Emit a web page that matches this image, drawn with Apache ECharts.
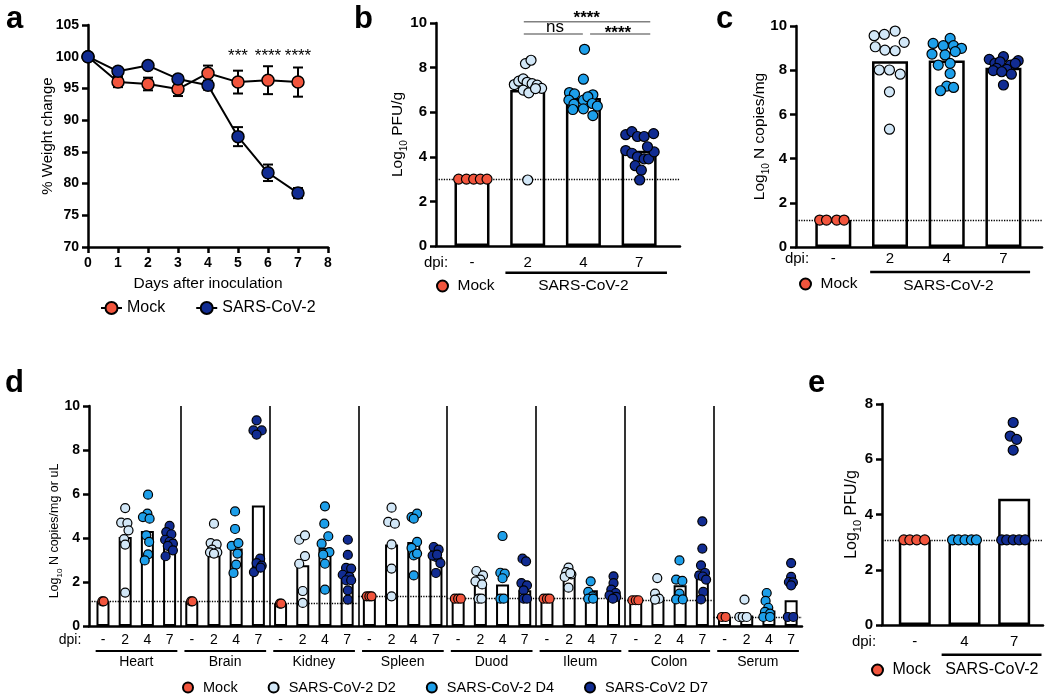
<!DOCTYPE html>
<html>
<head>
<meta charset="UTF-8">
<title>SARS-CoV-2 infection panels</title>
<style>
    html, body { margin: 0; padding: 0; width: 100%; height: 100%; overflow: hidden; background: #fff; }
    #main { width: 1050px; height: 699px; }
</style>
<script src="https://cdn.jsdelivr.net/npm/echarts@6/dist/echarts.min.js"></script>
</head>
<body>
<div id="main"></div>
<script>
// ---------- data ----------
// panel a: weight change
const days = [0, 1, 2, 3, 4, 5, 6, 7];
const weightMock = [100, 96.0, 95.7, 94.9, 97.4, 96.0, 96.3, 96.0];
const weightMockErr = [0, 0.8, 1.0, 1.1, 1.2, 1.8, 2.2, 2.3];
const weightSars = [100, 97.7, 98.6, 96.5, 95.5, 87.4, 81.7, 78.5];
const weightSarsErr = [0, 0.4, 0.3, 0.4, 0.7, 1.5, 1.3, 0.8];
const weightStarPos = [[5, 100.0], [6, 100.0], [7, 100.0]];
const weightStars = ['***', '****', '****'];

// panel b: lung PFU  (points are [jitter, value])
const dpiLung = ['-', '2', '4', '7'];
const pfuLungBars = [3.0, 6.99, 6.64, 4.27];
const pfuLungLod = 3.0;
const pfuLungMock = [[-0.24, 3], [-0.1, 3], [0.03, 3], [0.15, 3], [0.27, 3]];
const pfuLungD2 = [[-0.04, 8.18], [0.06, 8.33], [-0.24, 7.24], [-0.16, 7.39], [-0.08, 7.49], [-0.01, 7.34], [0.08, 7.28],
    [0.17, 7.21], [0.25, 7.07], [-0.08, 6.99], [0.02, 6.87], [0.14, 7.06], [0.0, 2.96]];
const pfuLungD4 = [[0.02, 8.82], [0, 7.48], [-0.25, 6.88], [-0.16, 6.82], [0.17, 6.78], [-0.26, 6.54], [0, 6.54],
    [0.08, 6.69], [-0.17, 6.36], [0.16, 6.39], [0.25, 6.27], [0, 6.15], [-0.19, 6.12], [0.17, 5.85]];
const pfuLungD7 = [[-0.24, 4.99], [-0.13, 5.13], [-0.03, 4.91], [0.09, 4.91], [0.26, 5.04], [-0.24, 4.28], [-0.13, 4.16],
    [-0.03, 4.0], [0.09, 3.91], [0.17, 3.91], [0.27, 4.22], [0.15, 4.45], [-0.07, 3.6], [0.04, 3.4], [0.01, 2.96]];
const pfuLungSigLines = [[0.93, 3.2, 10.06], [0.93, 1.99, 9.51], [2.12, 3.2, 9.51]];
const pfuLungSigPos = [[2.06, 10.2], [1.49, 9.8], [2.62, 9.55]];
const pfuLungSigText = ['****', 'ns', '****'];
const pfuLungSigWeight = ['bold', 'normal', 'bold'];
const pfuLungGroupLine = [[0.6, 3.5, -1.2]];
const pfuLungGroupPos = [[2.0, -1.79]];

// panel c: lung N copies
const rnaLungBars = [1.22, 8.41, 8.44, 8.11];
const rnaLungLod = 1.22;
const rnaLungMock = [[-0.24, 1.22], [-0.12, 1.22], [0.06, 1.22], [0.19, 1.22]];
const rnaLungD2 = [[-0.28, 9.56], [-0.10, 9.62], [0.09, 9.77], [0.25, 9.26], [-0.26, 9.06], [-0.09, 8.91], [0.09, 8.88],
    [-0.19, 8.01], [-0.01, 8.01], [0.18, 7.82], [-0.01, 7.02], [-0.01, 5.33]];
const rnaLungD4 = [[0.06, 9.44], [-0.24, 9.21], [-0.06, 9.11], [0.12, 9.11], [0.26, 8.99], [-0.26, 8.73], [-0.03, 8.69],
    [0.15, 8.84], [0.06, 8.31], [-0.15, 8.23], [0.06, 7.85], [0, 7.28], [0.12, 7.22], [-0.11, 7.07]];
const rnaLungD7 = [[-0.25, 8.49], [0, 8.61], [0.26, 8.43], [-0.15, 8.31], [-0.06, 8.38], [0.12, 8.23], [0.21, 8.31],
    [-0.12, 8.08], [0.06, 8.04], [-0.18, 7.98], [-0.03, 7.93], [0.14, 7.82], [0, 7.33]];
const rnaLungGroupLine = [[0.65, 3.47, -1.13]];
const rnaLungGroupPos = [[2.03, -1.74]];

// panel d: organs
const organs = ['Heart', 'Brain', 'Kidney', 'Spleen', 'Duod', 'Ileum', 'Colon', 'Serum'];
const organBars = [
    [1.12, 4.05, 4.32, 3.97], [1.12, 3.82, 3.52, 5.48], [1.02, 2.76, 3.56, 2.38], [1.35, 3.71, 3.82, 3.14],
    [1.24, 1.89, 1.89, 1.62], [1.24, 2.30, 1.62, 1.57], [1.17, 1.32, 1.85, 2.50], [0.41, 0.48, 0.71, 1.17]];
const organLod = [1.12, 1.12, 1.02, 1.35, 1.24, 1.24, 1.17, 0.41];
const organMock = [
    [[-0.03, 1.12], [0.03, 1.12]], [[-0.03, 1.12], [0.03, 1.12]], [[-0.03, 1.02], [0.03, 1.02]],
    [[-0.12, 1.35], [0, 1.35], [0.1, 1.35]], [[-0.15, 1.24], [0, 1.24], [0.12, 1.24]],
    [[-0.15, 1.24], [0, 1.24], [0.12, 1.24]], [[-0.15, 1.17], [0, 1.17], [0.12, 1.17]], [[-0.12, 0.41], [0.05, 0.41]]];
const organD2 = [
    [[0, 5.36], [-0.18, 4.70], [0.1, 4.68], [0.15, 4.35], [-0.05, 3.95], [0, 3.70], [0, 1.52]],
    [[0, 4.65], [-0.15, 3.77], [0.12, 3.71], [-0.08, 3.47], [0.15, 3.35], [-0.18, 3.35], [0, 3.29]],
    [[-0.16, 3.92], [0.1, 4.12], [0.1, 3.18], [-0.16, 2.83], [0, 1.59], [0, 1.05]],
    [[0, 5.38], [-0.15, 4.73], [0.15, 4.65], [0, 3.71], [0, 2.61], [0, 1.35]],
    [[-0.18, 2.5], [0.12, 2.3], [0, 2.11], [-0.22, 2.03], [0.08, 1.89], [-0.08, 1.24], [0.05, 1.24]],
    [[-0.03, 2.65], [-0.13, 2.45], [0.1, 2.35], [-0.2, 2.23], [0.05, 2.4], [-0.03, 1.74]],
    [[-0.03, 2.18], [-0.13, 1.47], [0.05, 1.24], [-0.13, 1.2]],
    [[-0.1, 1.2], [-0.33, 0.41], [-0.18, 0.41], [0, 0.41]]];
const organD4 = [
    [[0.03, 5.97], [0, 5.11], [-0.2, 4.95], [0.1, 4.88], [-0.05, 4.12], [0.08, 3.82], [0.03, 3.26], [-0.12, 2.98]],
    [[-0.05, 5.21], [-0.05, 4.41], [-0.2, 3.64], [0.1, 3.77], [0.06, 3.29], [0, 2.79], [-0.12, 2.41]],
    [[0, 5.44], [-0.03, 4.65], [0.15, 4.08], [-0.15, 3.74], [0.2, 3.36], [-0.08, 3.24], [0, 2.83], [0, 1.65]],
    [[-0.1, 4.95], [0.15, 5.11], [0, 4.88], [0.15, 3.82], [-0.1, 3.55], [0, 3.21], [0.15, 3.29], [0, 2.30]],
    [[0, 4.09], [-0.1, 2.42], [0.1, 2.38], [0, 2.17], [-0.1, 1.24], [0.05, 1.24]],
    [[-0.03, 2.03], [-0.14, 1.55], [0.05, 1.35], [-0.14, 1.24], [0.08, 1.24]],
    [[-0.03, 2.98], [-0.18, 2.11], [0.1, 2.05], [-0.03, 1.47], [-0.18, 1.21], [0.12, 1.21]],
    [[-0.1, 1.5], [-0.15, 1.14], [-0.03, 0.83], [-0.18, 0.64], [0.05, 0.56], [-0.25, 0.41], [0.05, 0.41]]];
const organD7 = [
    [[0, 4.55], [-0.15, 4.27], [0.08, 4.17], [-0.2, 3.92], [0, 3.83], [0.15, 3.74], [-0.08, 3.64], [0.15, 3.44], [-0.18, 3.17]],
    [[-0.08, 9.35], [-0.22, 8.89], [0.15, 8.89], [-0.08, 8.70], [0.08, 3.06], [-0.08, 2.86], [0.15, 2.74], [-0.2, 2.45], [0.1, 2.65]],
    [[0.03, 3.92], [0.03, 3.23], [-0.05, 2.64], [0.18, 2.61], [-0.2, 2.33], [0.1, 2.23], [-0.05, 2.08], [0.18, 2.08], [0.03, 1.62], [0.03, 1.2]],
    [[-0.1, 3.59], [0.12, 3.47], [0, 3.14], [-0.15, 3.2], [0.05, 3.24], [0.2, 2.86], [0, 2.41]],
    [[-0.1, 3.06], [0.06, 2.94], [-0.15, 1.95], [0.1, 1.85], [-0.05, 1.62], [-0.05, 1.24], [0.1, 1.24]],
    [[0, 2.26], [0, 1.95], [-0.1, 1.65], [0.1, 1.5], [-0.18, 1.39], [0.12, 1.32], [-0.03, 1.24]],
    [[0, 4.76], [0, 3.52], [-0.06, 2.76], [-0.14, 2.30], [0.12, 2.41], [0.02, 2.25], [0.17, 2.11], [0.04, 1.55], [-0.06, 1.21]],
    [[0, 2.86], [0, 2.23], [-0.1, 2.0], [0.08, 1.98], [0, 1.85], [-0.15, 0.41], [0.1, 0.41]]];

// panel e: brain PFU
const dpiBrain = ['-', '4', '7'];
const pfuBrainBars = [3.08, 3.08, 4.57];
const pfuBrainLod = 3.08;
const pfuBrainMock = [[-0.22, 3.08], [-0.1, 3.08], [0.04, 3.08], [0.2, 3.08]];
const pfuBrainD4 = [[-0.24, 3.08], [-0.12, 3.08], [0.01, 3.08], [0.14, 3.08], [0.24, 3.08]];
const pfuBrainD7 = [[-0.02, 7.33], [-0.08, 6.84], [0.05, 6.72], [-0.02, 6.33], [-0.25, 3.08], [-0.15, 3.08],
    [-0.02, 3.08], [0.1, 3.08], [0.22, 3.08]];
const pfuBrainGroupLine = [[0.54, 2.55, -1.08]];
const pfuBrainGroupPos = [[1.55, -1.62]];

// ---------- style ----------
const FONT = '"Liberation Sans", Arial, Helvetica, sans-serif';
const BLACK = '#000';
const RED = '#F2553D';
const LIGHT = '#D2E7F7';
const MID = '#1D9FEA';
const DARK = '#112C92';

function txt(size, weight) {
    return { color: BLACK, fontFamily: FONT, fontSize: size, fontWeight: weight || 'normal' };
}

function subName(pre, post, size, shift) {
    return {
        name: '{t|' + pre + '}{s|10}{t|' + post + '}',
        nameTextStyle: {
            padding: shift ? [0, shift, 0, 0] : 0,
            rich: {
                t: { fontFamily: FONT, fontSize: size, color: BLACK, lineHeight: size + 7 },
                s: { fontFamily: FONT, fontSize: Math.round(size * 0.66), color: BLACK, lineHeight: size * 0.8, verticalAlign: 'bottom' }
            }
        }
    };
}

function yAxisOf(gi, min, max, interval, nameCfg, nameGap, labelSize) {
    return Object.assign({
        type: 'value', gridIndex: gi, min: min, max: max, interval: interval,
        axisLine: { show: true, onZero: false, lineStyle: { color: BLACK, width: 2.5 } },
        axisTick: { show: true, length: 6, lineStyle: { color: BLACK, width: 2.5 } },
        axisLabel: Object.assign(txt(labelSize, 'bold'), { margin: 9 }),
        splitLine: { show: false },
        nameLocation: 'middle', nameGap: nameGap, nameMoveOverlap: false
    }, nameCfg);
}

function xDpiAxis(gi, min, max, labels, size, margin, dpiGap) {
    const ticks = [];
    for (let i = 0; i <= Math.floor(max); i++) ticks.push(i);
    return {
        type: 'value', gridIndex: gi, min: min, max: max,
        axisLine: { show: true, onZero: false, lineStyle: { color: BLACK, width: 2.5 } },
        axisTick: { show: false },
        splitLine: { show: false },
        axisLabel: Object.assign(txt(size), {
            margin: margin, customValues: ticks,
            formatter: v => labels[Math.round(v) % labels.length]
        }),
        name: 'dpi:', nameLocation: 'start', nameGap: dpiGap, nameMoveOverlap: false,
        nameTextStyle: Object.assign(txt(size), { align: 'center', verticalAlign: 'top', padding: [margin, 0, 0, 0] })
    };
}

function dots(gi, name, color, pts, base, size) {
    return {
        type: 'scatter', name: name, xAxisIndex: gi, yAxisIndex: gi, z: 6, silent: true,
        symbol: 'circle', symbolSize: size,
        itemStyle: { color: color, borderColor: BLACK, borderWidth: 1.2, opacity: 1 },
        data: pts.map(p => [base + p[0], p[1]])
    };
}

function bars(gi, values, width, border, markData) {
    return {
        type: 'bar', xAxisIndex: gi, yAxisIndex: gi, barWidth: width, z: 2, silent: true,
        itemStyle: { color: '#fff', borderColor: BLACK, borderWidth: border },
        data: values.map((v, i) => [i, v]),
        markLine: {
            silent: true, symbol: ['none', 'none'], label: { show: false },
            lineStyle: { color: BLACK, type: 'dotted', width: 1.3 },
            data: markData
        }
    };
}

function segSeries(gi, segs, color, width) {
    return {
        type: 'custom', xAxisIndex: gi, yAxisIndex: gi, silent: true, z: 8, data: segs,
        renderItem: (params, api) => {
            const a = api.coord([api.value(0), api.value(2)]);
            const b = api.coord([api.value(1), api.value(2)]);
            return { type: 'line', shape: { x1: a[0], y1: a[1], x2: b[0], y2: b[1] }, style: { stroke: color, lineWidth: width } };
        }
    };
}

function textSeries(gi, pos, texts, size, weights) {
    return {
        type: 'custom', xAxisIndex: gi, yAxisIndex: gi, silent: true, z: 8, data: pos,
        renderItem: (params, api) => {
            const p = api.coord([api.value(0), api.value(1)]);
            return {
                type: 'text', x: p[0], y: p[1],
                style: { text: texts[params.dataIndex], fill: BLACK, fontFamily: FONT, fontSize: size,
                    fontWeight: weights ? weights[params.dataIndex] : 'normal', align: 'center', verticalAlign: 'middle' }
            };
        }
    };
}

function errorSeries(values, errs) {
    return {
        type: 'custom', xAxisIndex: 0, yAxisIndex: 0, silent: true, z: 1,
        data: days.map((d, i) => [d, values[i], errs[i]]),
        renderItem: (params, api) => {
            const x = api.value(0), y = api.value(1), e = api.value(2);
            if (!e) return null;
            const hi = api.coord([x, y + e]), lo = api.coord([x, y - e]);
            const w = 5, st = { stroke: BLACK, lineWidth: 2 };
            return {
                type: 'group', children: [
                    { type: 'line', shape: { x1: hi[0], y1: hi[1], x2: lo[0], y2: lo[1] }, style: st },
                    { type: 'line', shape: { x1: hi[0] - w, y1: hi[1], x2: hi[0] + w, y2: hi[1] }, style: st },
                    { type: 'line', shape: { x1: lo[0] - w, y1: lo[1], x2: lo[0] + w, y2: lo[1] }, style: st }
                ]
            };
        }
    };
}

function organPts(groups, g) {
    const out = [];
    groups.forEach((pts, k) => pts.forEach(p => out.push([4 * k + g + p[0], p[1]])));
    return out;
}

// ---------- chart ----------
const chart = echarts.init(document.getElementById('main'));

const dMin = -0.63, dMax = 31.49;
const organBarData = [];
organBars.forEach((row, k) => row.forEach((v, g) => organBarData.push([4 * k + g, v])));
const organMarks = organs.slice(1).map((o, k) => ({ xAxis: 4 * (k + 1) - 0.5, lineStyle: { type: 'solid', width: 1.6 } }))
    .concat(organLod.map((v, k) => [{ coord: [k === 0 ? dMin : 4 * k - 0.5, v] }, { coord: [Math.min(4 * k + 3.5, dMax), v] }]));

const organSeriesBars = {
    type: 'bar', xAxisIndex: 3, yAxisIndex: 3, barWidth: 13, z: 2, silent: true,
    itemStyle: { color: '#fff', borderColor: BLACK, borderWidth: 2 },
    data: organBarData,
    markLine: {
        silent: true, symbol: ['none', 'none'], label: { show: false },
        lineStyle: { color: BLACK, type: 'dotted', width: 1.3 },
        data: organMarks
    }
};

const legendBase = { selectedMode: false, padding: 0, itemGap: 30 };

const option = {
    animation: false,
    backgroundColor: '#fff',
    textStyle: { fontFamily: FONT },
    title: [
        { text: 'a', left: 6, top: 4 }, { text: 'b', left: 354, top: 4 }, { text: 'c', left: 716, top: 4 },
        { text: 'd', left: 5, top: 368 }, { text: 'e', left: 808, top: 368 }
    ].map(t => Object.assign(t, { padding: 0, textStyle: txt(31, 'bold') })),
    grid: [
        { left: 88, top: 25, width: 240, height: 222 },
        { left: 436, top: 23, width: 244, height: 223 },
        { left: 796, top: 26, width: 246, height: 221 },
        { left: 89, top: 406, width: 713, height: 220 },
        { left: 882, top: 404, width: 161, height: 221 }
    ].map(g => Object.assign(g, { outerBoundsMode: 'none', containLabel: false })),
    legend: [
        Object.assign({}, legendBase, { data: ['Mock', 'SARS-CoV-2'], left: 100, top: 300, itemWidth: 21, itemHeight: 15, textStyle: txt(16) }),
        Object.assign({}, legendBase, { data: [{ name: 'Mock', icon: 'circle' }], left: 436, top: 278, itemWidth: 20, itemHeight: 11, textStyle: txt(15.5) }),
        Object.assign({}, legendBase, { data: [{ name: 'Mock', icon: 'circle' }], left: 799, top: 276, itemWidth: 20, itemHeight: 11, textStyle: txt(15.5) }),
        Object.assign({}, legendBase, {
            data: ['Mock', 'SARS-CoV-2 D2', 'SARS-CoV-2 D4', 'SARS-CoV2 D7'].map(n => ({ name: n, icon: 'circle' })),
            left: 182, top: 680, itemWidth: 20, itemHeight: 10, itemGap: 30, textStyle: txt(14.5)
        }),
        Object.assign({}, legendBase, { data: [{ name: 'Mock', icon: 'circle' }], left: 871, top: 662, itemWidth: 20, itemHeight: 11, textStyle: txt(16) })
    ],
    xAxis: [
        {
            type: 'value', gridIndex: 0, min: 0, max: 8, interval: 1,
            axisLine: { show: true, onZero: false, lineStyle: { color: BLACK, width: 2.5 } },
            axisTick: { show: true, length: 6, lineStyle: { color: BLACK, width: 2.5 } },
            axisLabel: Object.assign(txt(14, 'bold'), { margin: 9 }),
            splitLine: { show: false },
            name: 'Days after inoculation', nameLocation: 'middle', nameGap: 29, nameMoveOverlap: false,
            nameTextStyle: txt(15.5)
        },
        xDpiAxis(1, -0.646, 3.734, dpiLung, 15, 9, 0),
        xDpiAxis(2, -0.658, 3.68, dpiLung, 15, 4, -1),
        xDpiAxis(3, dMin, dMax, dpiLung, 14, 7, 19),
        xDpiAxis(4, -0.66, 2.58, dpiBrain, 15, 9, 18)
    ],
    yAxis: [
        yAxisOf(0, 70, 105, 5, { name: '% Weight change', nameTextStyle: txt(15) }, 33, 14),
        yAxisOf(1, 0, 10, 2, subName('Log', ' PFU/g', 15.5), 27, 15),
        yAxisOf(2, 0, 10, 2, subName('Log', ' N copies/mg', 15.5), 25, 15),
        yAxisOf(3, 0, 10, 2, subName('Log', ' N copies/mg or uL', 12.5, 30), 25, 14),
        yAxisOf(4, 0, 8, 2, subName('Log', ' PFU/g', 16), 19, 15)
    ],
    series: [
        // a
        {
            type: 'line', name: 'Mock', xAxisIndex: 0, yAxisIndex: 0, z: 3, silent: true,
            symbol: 'circle', symbolSize: 12,
            lineStyle: { color: BLACK, width: 2 },
            itemStyle: { color: RED, borderColor: BLACK, borderWidth: 1.5 },
            data: days.map((d, i) => [d, weightMock[i]])
        },
        {
            type: 'line', name: 'SARS-CoV-2', xAxisIndex: 0, yAxisIndex: 0, z: 3, silent: true,
            symbol: 'circle', symbolSize: 12,
            lineStyle: { color: BLACK, width: 2 },
            itemStyle: { color: DARK, borderColor: BLACK, borderWidth: 1.5 },
            data: days.map((d, i) => [d, weightSars[i]])
        },
        errorSeries(weightMock, weightMockErr),
        errorSeries(weightSars, weightSarsErr),
        textSeries(0, weightStarPos, weightStars, 17),

        // b
        bars(1, pfuLungBars, 35, 2.5, [{ yAxis: pfuLungLod }]),
        dots(1, 'Mock', RED, pfuLungMock, 0, 10),
        dots(1, 'SARS-CoV-2 D2', LIGHT, pfuLungD2, 1, 10),
        dots(1, 'SARS-CoV-2 D4', MID, pfuLungD4, 2, 10),
        dots(1, 'SARS-CoV2 D7', DARK, pfuLungD7, 3, 10),
        segSeries(1, pfuLungSigLines, '#808080', 1.5),
        textSeries(1, pfuLungSigPos, pfuLungSigText, 17, pfuLungSigWeight),
        segSeries(1, pfuLungGroupLine, BLACK, 2.5),
        textSeries(1, pfuLungGroupPos, ['SARS-CoV-2'], 15.5),

        // c
        bars(2, rnaLungBars, 36, 2.5, [{ yAxis: rnaLungLod }]),
        dots(2, 'Mock', RED, rnaLungMock, 0, 10),
        dots(2, 'SARS-CoV-2 D2', LIGHT, rnaLungD2, 1, 10),
        dots(2, 'SARS-CoV-2 D4', MID, rnaLungD4, 2, 10),
        dots(2, 'SARS-CoV2 D7', DARK, rnaLungD7, 3, 10),
        segSeries(2, rnaLungGroupLine, BLACK, 2.5),
        textSeries(2, rnaLungGroupPos, ['SARS-CoV-2'], 15.5),

        // d
        organSeriesBars,
        dots(3, 'Mock', RED, organPts(organMock, 0), 0, 9),
        dots(3, 'SARS-CoV-2 D2', LIGHT, organPts(organD2, 1), 0, 9),
        dots(3, 'SARS-CoV-2 D4', MID, organPts(organD4, 2), 0, 9),
        dots(3, 'SARS-CoV2 D7', DARK, organPts(organD7, 3), 0, 9),
        segSeries(3, organs.map((o, k) => [4 * k - 0.33, 4 * k + 3.35, -1.14]), BLACK, 2),
        textSeries(3, organs.map((o, k) => [4 * k + 1.5, -1.64]), organs, 14),

        // e
        bars(4, pfuBrainBars, 32, 2.5, [{ yAxis: pfuBrainLod }]),
        dots(4, 'Mock', RED, pfuBrainMock, 0, 10),
        dots(4, 'SARS-CoV-2 D4', MID, pfuBrainD4, 1, 10),
        dots(4, 'SARS-CoV2 D7', DARK, pfuBrainD7, 2, 10),
        segSeries(4, pfuBrainGroupLine, BLACK, 2.5),
        textSeries(4, pfuBrainGroupPos, ['SARS-CoV-2'], 16)
    ]
};

chart.setOption(option);
window.addEventListener('resize', () => chart.resize());
</script>
</body>
</html>
